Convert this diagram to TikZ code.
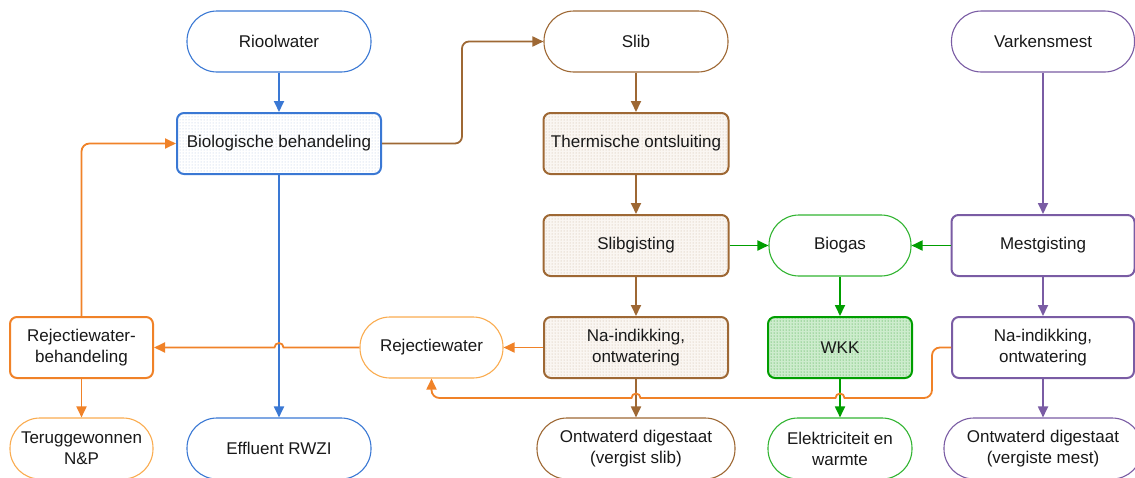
\documentclass[tikz,border=0pt]{standalone}
\usepackage{fontspec}
\setmainfont{Liberation Sans}
\usetikzlibrary{arrows.meta,patterns,calc}
\definecolor{cblue}{RGB}{58,120,212}
\definecolor{cbrown}{RGB}{158,104,52}
\definecolor{cpurple}{RGB}{122,92,164}
\definecolor{cgreen}{RGB}{0,158,0}
\definecolor{cgreenl}{RGB}{50,180,50}
\definecolor{corange}{RGB}{240,130,40}
\definecolor{corangel}{RGB}{250,172,80}
\definecolor{bluedot}{RGB}{180,198,226}
\definecolor{browndot}{RGB}{200,178,156}
\definecolor{brownbg}{RGB}{250,246,242}
\definecolor{greendot}{RGB}{40,155,40}
\definecolor{greenbg}{RGB}{205,236,205}
\definecolor{txt}{RGB}{25,25,25}
\begin{document}
\begin{tikzpicture}[x=1pt,y=-1pt,
  base/.style={rectangle, minimum height=61pt, inner sep=2pt, align=center,
    text=txt, font=\fontsize{17}{21}\selectfont},
  term/.style={base, rounded corners=30pt, draw, line width=1.1pt, fill=white},
  proc/.style={base, rounded corners=7pt, draw, line width=2pt},
  bluefill/.style={preaction={fill=white}, pattern=dots, pattern color=bluedot},
  brownfill/.style={preaction={fill=brownbg}, pattern=dots, pattern color=browndot},
  greenfill/.style={preaction={fill=greenbg}, pattern=dots, pattern color=greendot},
  conn/.style={line width=1.8pt, -{Triangle[length=11pt,width=10pt]}},
  cb/.style={conn, draw=cblue},
  cbr/.style={conn, draw=cbrown},
  cp/.style={conn, draw=cpurple},
  cg/.style={conn, draw=cgreen},
  co/.style={conn, draw=corange},
]
\useasboundingbox (0,0) rectangle (1135,477);

% top row
\node[term, draw=cblue, minimum width=184pt] (riool) at (279,41.5) {Rioolwater};
\node[term, draw=cbrown, minimum width=184pt] (slib) at (636,41.5) {Slib};
\node[term, draw=cpurple, minimum width=183pt] (vark) at (1043,41.5) {Varkensmest};

% processes
\node[proc, draw=cblue, bluefill, minimum width=204pt] (bio) at (279,143.5) {Biologische behandeling};
\node[proc, draw=cbrown, brownfill, minimum width=185pt] (therm) at (636,143.5) {Thermische ontsluiting};
\node[proc, draw=cbrown, brownfill, minimum width=185pt] (slibg) at (636,245.5) {Slibgisting};
\node[term, draw=cgreenl, minimum width=142pt] (biogas) at (840,245.5) {Biogas};
\node[proc, draw=cpurple, fill=white, minimum width=183pt] (mest) at (1043,245.5) {Mestgisting};

\node[proc, draw=corange, fill=white, minimum width=143pt] (rwb) at (81.5,347.5) {Rejectiewater-\\behandeling};
\node[term, draw=corangel, minimum width=143pt] (rw) at (431.5,347.5) {Rejectiewater};
\node[proc, draw=cbrown, brownfill, minimum width=184pt] (bna) at (636,347.5) {Na-indikking,\\ontwatering};
\node[proc, draw=cgreen, greenfill, minimum width=144pt] (wkk) at (840,347.5) {WKK};
\node[proc, draw=cpurple, fill=white, minimum width=182pt] (pna) at (1043,347.5) {Na-indikking,\\ontwatering};

% bottom row
\node[term, draw=corangel, minimum width=143pt] (terug) at (81.5,448.5) {Teruggewonnen\\N\&P};
\node[term, draw=cblue, minimum width=184pt] (eff) at (279,448.5) {Effluent RWZI};
\node[term, draw=cbrown, minimum width=198pt] (odslib) at (636,448.5) {Ontwaterd digestaat\\(vergist slib)};
\node[term, draw=cgreenl, minimum width=144pt] (elek) at (840,448.5) {Elektriciteit en\\warmte};
\node[term, draw=cpurple, minimum width=198pt] (odmest) at (1043,448.5) {Ontwaterd digestaat\\(vergiste mest)};

% blue
\draw[cb] (riool.south) -- (bio.north);
\draw[cb] (bio.south) -- (eff.north);
% brown
\draw[cbr, rounded corners=7pt] (bio.east) -- (462,143.5) -- (462,41.5) -- (slib.west);
\draw[cbr] (slib.south) -- (therm.north);
\draw[cbr] (therm.south) -- (slibg.north);
\draw[cbr] (slibg.south) -- (bna.north);
\draw[cbr] (bna.south) -- (odslib.north);
% purple
\draw[cp] (vark.south) -- (mest.north);
\draw[cp] (mest.south) -- (pna.north);
\draw[cp] (pna.south) -- (odmest.north);
% green
\draw[cg] (slibg.east) -- (biogas.west);
\draw[cg] (mest.west) -- (biogas.east);
\draw[cg] (biogas.south) -- (wkk.north);
\draw[cg] (wkk.south) -- (elek.north);
% orange
\draw[co] (bna.west) -- (rw.east);
\draw[co] (rw.west) -- ($(bio.south |- rw.west)+(4.5,0)$)
  arc[start angle=0, end angle=180, radius=4.5pt] -- (rwb.east);
\draw[co, rounded corners=8pt] (rwb.north) -- (rwb.north |- bio.west) -- (bio.west);
\draw[co] (rwb.south) -- (terug.north);
\draw[co] (pna.west) [rounded corners=8pt] -- (932,347.5) -- (932,398) -- (900,398)
  [sharp corners] -- (844.5,398) arc[start angle=0, end angle=180, radius=4.5pt]
  -- (640.5,398) arc[start angle=0, end angle=180, radius=4.5pt]
  -- (600,398) [rounded corners=8pt] -- (rw.south |- 0,398) -- (rw.south);
\end{tikzpicture}
\end{document}
